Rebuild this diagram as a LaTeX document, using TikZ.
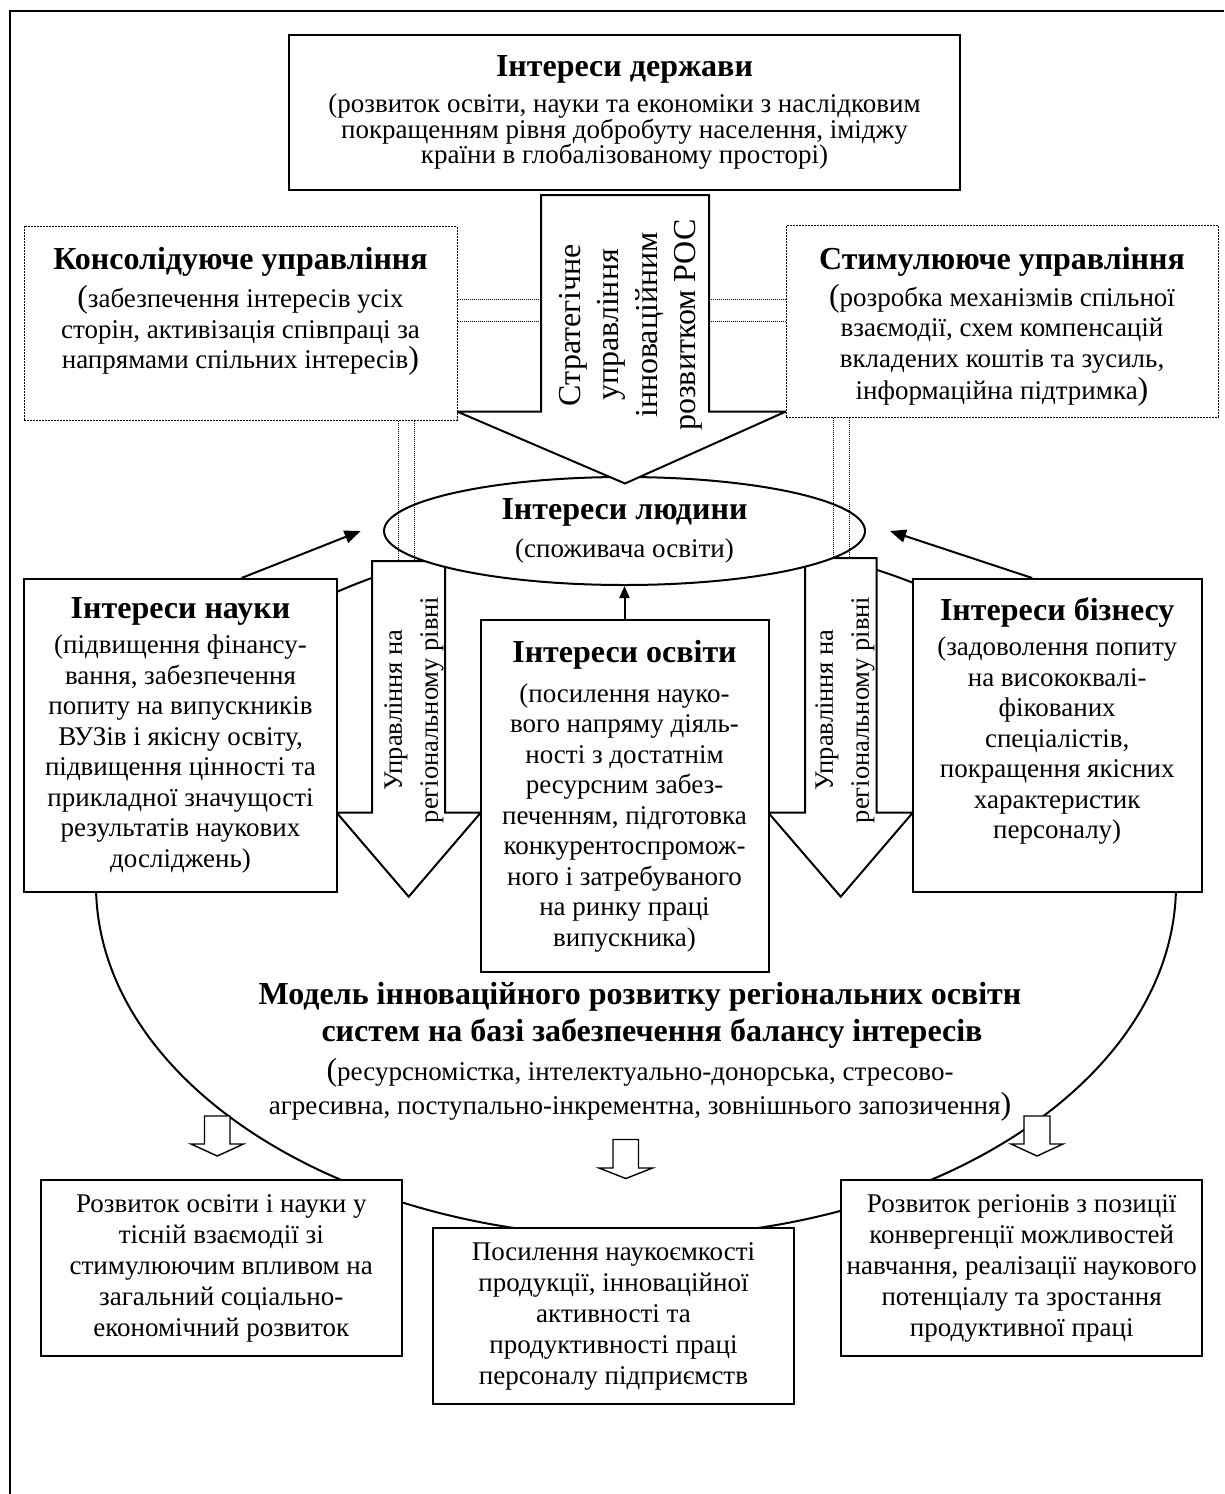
\documentclass[tikz,border=0pt]{standalone}
\usepackage{fontspec}
\setmainfont{Liberation Serif}
\usetikzlibrary{arrows.meta,shapes.geometric}
\pgfdeclarelayer{edgelayer}
\pgfdeclarelayer{nodelayer}
\pgfsetlayers{edgelayer,nodelayer,main}
\newcommand{\bodysize}{\fontsize{27}{30.5}\selectfont}
\newcommand{\headsize}{\fontsize{32}{35}\selectfont\bfseries}
\newcommand{\arrowsize}{\fontsize{32}{38.5}\selectfont}
\newcommand{\lpar}{{\fontsize{32}{35}\selectfont(}}
\newcommand{\rpar}{{\fontsize{32}{35}\selectfont)}}
\tikzstyle{edge}=[draw=black, line width=2pt]
\tikzstyle{link}=[draw=black, densely dotted, line width=1pt]
\tikzstyle{box}=[draw=black, fill=white, line width=2pt, align=center, inner sep=0pt, font=\bodysize]
\tikzstyle{dotbox}=[box, densely dotted, line width=1pt]
\tikzstyle{blockarrow}=[draw=black, fill=white, line width=2pt, line join=miter]
\tikzstyle{hollow}=[blockarrow, line width=1.4pt]
\tikzstyle{caption}=[align=center, inner sep=0pt, font=\bodysize]

\begin{document}
\begin{tikzpicture}[x=1pt, y=-1pt]
				\useasboundingbox (0,0) rectangle (1224,1494);
				\begin{pgfonlayer}{edgelayer}
					\draw [line width=2.5pt] (10,1494) -- (10,11) -- (1224,11);
					\draw [style=edge] (636,885) ellipse [x radius=540pt, y radius=352pt];
				\end{pgfonlayer}
				\begin{pgfonlayer}{nodelayer}
					\draw [style=blockarrow] (372,561) -- (445,561) -- (445,812.7) -- (480.7,812.7) -- (408.7,896.7) -- (336.7,812.7) -- (372,812.7) -- cycle;
					\draw [style=blockarrow] (805,558) -- (876.7,558) -- (876.7,812.7) -- (912.7,812.7) -- (840.7,896.7) -- (768.3,812.7) -- (805,812.7) -- cycle;
					\node [style=caption, rotate=90, font=\fontsize{26.5}{36}\selectfont] (10) at (414,710) {Управління на\\ регіональному рівні};
					\node [style=caption, rotate=90, font=\fontsize{26.5}{36}\selectfont] (11) at (845,710) {Управління на\\ регіональному рівні};
					\node [style=box, font=\fontsize{27}{25.5}\selectfont, minimum width=671, minimum height=155] (0) at (624.5,112.5) {{\headsize Інтереси держави}\\[9.5pt] (розвиток освіти, науки та економіки з наслідковим\\ покращенням рівня добробуту населення, іміджу\\ країни в глобалізованому просторі)};
					\node [style=box, minimum width=313, minimum height=313] (4) at (180.5,735.5) {{\headsize Інтереси науки}\\[4.5pt] (підвищення фінансу-\\ вання, забезпечення\\ попиту на випускників\\ ВУЗів і якісну освіту,\\ підвищення цінності та\\ прикладної значущості\\ результатів наукових\\ досліджень)};
					\node [style=box, minimum width=288, minimum height=352] (5) at (624.5,796) {{\headsize Інтереси освіти}\\[9.5pt] (посилення науко-\\ вого напряму діяль-\\ ності з достатнім\\ ресурсним забез-\\ печенням, підготовка\\ конкурентоспромож-\\ ного і затребуваного\\ на ринку праці\\ випускника)};
					\node [style=box, minimum width=289, minimum height=313] (6) at (1057.2,735.5) {{\headsize Інтереси бізнесу}\\[4.5pt] (задоволення попиту\\ на висококвалі-\\ фікованих\\ спеціалістів,\\ покращення якісних\\ характеристик\\ персоналу)\\[4pt] \mbox{}};
					\node [style=box, font=\fontsize{27}{31}\selectfont, minimum width=361.4, minimum height=176] (7) at (221.3,1268) {Розвиток освіти і науки у\\ тісній взаємодії зі\\ стимулюючим впливом на\\ загальний соціально-\\ економічний розвиток};
					\node [style=box, font=\fontsize{27}{31}\selectfont, minimum width=361, minimum height=176] (8) at (613.5,1316) {Посилення наукоємкості\\ продукції, інноваційної\\ активності та\\ продуктивності праці\\ персоналу підприємств};
					\node [style=box, font=\fontsize{27}{31}\selectfont, minimum width=360.5, minimum height=176] (9) at (1021.7,1268) {Розвиток регіонів з позиції\\ конвергенції можливостей\\ навчання, реалізації наукового\\ потенціалу та зростання\\ продуктивної праці};
					\node [style=box, ellipse, minimum width=481, minimum height=108] (3) at (624.5,531) {{\headsize Інтереси людини}\\[7.5pt] (споживача освіти)};
					\draw [style=blockarrow] (541,195) -- (709,195) -- (709,411.5) -- (786,411.5) -- (625,483.5) -- (457,411.5) -- (541,411.5) -- cycle;
					\node [style=caption, rotate=90, font=\arrowsize] (12) at (631,325) {Стратегічне\\ управління\\ інноваційним\\ розвитком РОС};
					\node [style=dotbox, minimum width=433, minimum height=193.4] (1) at (240.5,323.4) {{\headsize Консолідуюче управління}\\[7.5pt] \lpar забезпечення інтересів усіх\\ сторін, активізація співпраці за\\ напрямами спільних інтересів\rpar\\[0pt] \mbox{}};
					\node [style=dotbox, minimum width=432, minimum height=191.5] (2) at (1002,321.3) {{\headsize \rule{0pt}{33pt}Стимулююче управління}\\[6.5pt] \lpar розробка механізмів спільної\\ взаємодії, схем компенсацій\\ вкладених коштів та зусиль,\\[2pt] інформаційна підтримка\rpar};
					\node [style=caption] (13) at (640,1052) {{\headsize Модель інноваційного розвитку регіональних освітн}\\[6pt] \hspace*{24pt}{\headsize систем на базі забезпечення балансу інтересів}\\[9pt] \lpar ресурсномістка, інтелектуально-донорська, стресово-\\[3.5pt] агресивна, поступально-інкрементна, зовнішнього запозичення\rpar};
					\draw [style=hollow] (204.5,1116) -- (230,1116) -- (230,1144) -- (243.5,1144) -- (217.3,1156) -- (191,1144) -- (204.5,1144) -- cycle;
					\draw [style=hollow] (613,1139.5) -- (638.5,1139.5) -- (638.5,1168) -- (652.6,1168) -- (625.8,1178.5) -- (599,1168) -- (613,1168) -- cycle;
					\draw [style=hollow] (1024,1116) -- (1050,1116) -- (1050,1144) -- (1063,1144) -- (1037,1156) -- (1011,1144) -- (1024,1144) -- cycle;
					\coordinate (14) at (360.6,531);
					\coordinate (15) at (890,531);
				\end{pgfonlayer}
				\draw [style=link] (1.east |- 0,299) -- (541,299);
				\draw [style=link] (1.east |- 0,321) -- (541,321);
				\draw [style=link] (709,299) -- (2.west |- 0,299);
				\draw [style=link] (709,321) -- (2.west |- 0,321);
				\draw [style=link] (1.south -| 398,0) -- (398,561);
				\draw [style=link] (1.south -| 414,0) -- (414,561);
				\draw [style=link] (2.south -| 833,0) -- (833,558);
				\draw [style=link] (2.south -| 849,0) -- (849,558);
				\draw [style=edge, -{Triangle[length=16pt, width=13pt]}] ([xshift=61pt]4.north) to (14);
				\draw [style=edge, -{Triangle[length=16pt, width=13pt]}] ([xshift=-25pt]6.north) to (15);
				\draw [style=edge, -{Triangle[length=12pt, width=10pt]}] (5.north) to (3.south);
			\end{tikzpicture}
\end{document}
